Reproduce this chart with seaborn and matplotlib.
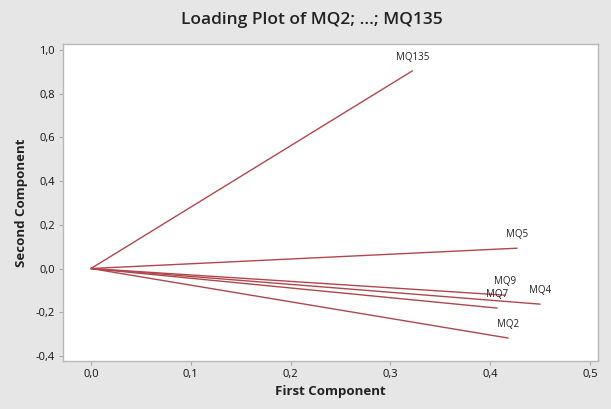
import matplotlib
matplotlib.use("Agg")
import matplotlib.pyplot as plt
import seaborn as sns
import pandas as pd

variables = ["MQ2", "MQ4", "MQ5", "MQ7", "MQ9", "MQ135"]
first_comp = [0.418, 0.450, 0.427, 0.407, 0.415, 0.322]
second_comp = [-0.318, -0.163, 0.093, -0.181, -0.122, 0.904]
xticks = [0.0, 0.1, 0.2, 0.3, 0.4, 0.5]
yticks = [-0.4, -0.2, 0.0, 0.2, 0.4, 0.6, 0.8, 1.0]

rows = []
for v, a, b in zip(variables, first_comp, second_comp):
    rows.append({"var": v, "x": 0.0, "y": 0.0, "order": 0})
    rows.append({"var": v, "x": a, "y": b, "order": 1})
df = pd.DataFrame(rows)

sns.set_theme(style="white")
plt.rcParams["font.family"] = ["Open Sans", "DejaVu Sans"]

bg = "#e6e6e6"
fig = plt.figure(figsize=(6.11, 4.09), dpi=100, facecolor=bg)
ax = fig.add_axes([63/611, 1-361/409, (598-63)/611, (361-44)/409])
ax.set_facecolor("white")

line_color = "#b0474c"
sns.lineplot(data=df, x="x", y="y", units="var", estimator=None, sort=False,
             color=line_color, linewidth=1.0, ax=ax, legend=False)

for v, a, b in zip(variables, first_comp, second_comp):
    ax.annotate(v, (a, b), xytext=(0, 6), textcoords="offset points",
                ha="center", va="bottom", fontsize=7, color="#222222")

ax.set_xlim(-0.028, 0.508)
ax.set_ylim(-0.423, 1.027)
ax.set_xticks(xticks)
ax.set_yticks(yticks)
ax.set_xticklabels([f"{t:.1f}".replace(".", ",") for t in xticks], fontsize=8, color="#111111")
ax.set_yticklabels([f"{t:.1f}".replace(".", ",") for t in yticks], fontsize=8, color="#111111")
ax.tick_params(axis="both", length=3, width=0.8, color="#aaaaaa", pad=3, bottom=True, left=True)
for s in ax.spines.values():
    s.set_color("#b8b8b8")
    s.set_linewidth(1.0)

ax.set_xlabel("First Component", fontsize=9.5, fontweight="bold", color="#222222", labelpad=3)
ax.set_ylabel("Second Component", fontsize=9.5, fontweight="bold", color="#222222", labelpad=5)
fig.suptitle("Loading Plot of MQ2; ...; MQ135", x=312/611, y=1-20/409, va="center",
             fontsize=12.5, fontweight="semibold", color="#222222")

fig.savefig("out.png", dpi=100, facecolor=bg)
